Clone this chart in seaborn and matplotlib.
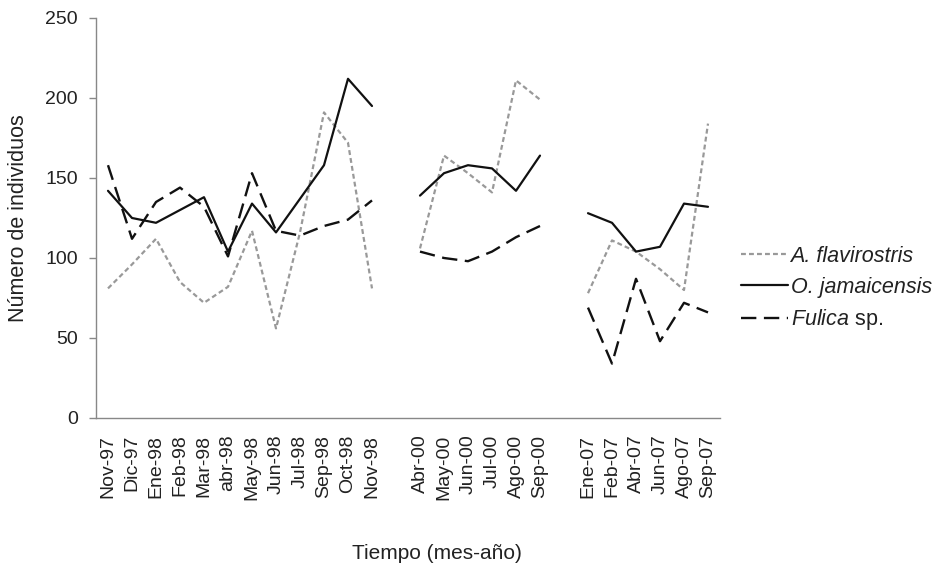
import numpy as np
import pandas as pd
import matplotlib
matplotlib.use("Agg")
import matplotlib.pyplot as plt
import seaborn as sns

# ---- data ----
categories = ["Nov-97", "Dic-97", "Ene-98", "Feb-98", "Mar-98", "abr-98", "May-98",
              "Jun-98", "Jul-98", "Sep-98", "Oct-98", "Nov-98", "",
              "Abr-00", "May-00", "Jun-00", "Jul-00", "Ago-00", "Sep-00", "",
              "Ene-07", "Feb-07", "Abr-07", "Jun-07", "Ago-07", "Sep-07"]

a_flavirostris = [81, 96, 112, 85, 72, 82, 117, 56, 116, 191, 172, 81, None,
                  106, 164, 153, 141, 211, 199, None,
                  78, 111, 104, 93, 80, 184]
o_jamaicensis = [142, 125, 122, 130, 138, 104, 134, 116, 137, 158, 212, 195, None,
                 139, 153, 158, 156, 142, 164, None,
                 128, 122, 104, 107, 134, 132]
fulica = [158, 112, 135, 144, 132, 101, 153, 117, 114, 120, 124, 136, None,
          104, 100, 98, 104, 113, 120, None,
          69, 34, 87, 48, 72, 66]

series_names = ["A. flavirostris", "O. jamaicensis", "Fulica sp."]
series_values = [a_flavirostris, o_jamaicensis, fulica]

# ---- style ----
sns.set_theme(style="white")
plt.rcParams["font.family"] = ["Liberation Sans", "DejaVu Sans"]
plt.rcParams["mathtext.fontset"] = "custom"
plt.rcParams["mathtext.it"] = "Liberation Sans:italic"
plt.rcParams["mathtext.rm"] = "Liberation Sans"

styles = {
    "A. flavirostris": dict(color="#999999", lw=1.6, ls=(0, (2.2, 1.4))),
    "O. jamaicensis": dict(color="#111111", lw=1.6, ls="-"),
    "Fulica sp.": dict(color="#111111", lw=1.7, ls=(0, (6.5, 3.2))),
}
labels = {
    "A. flavirostris": "A. flavirostris",
    "O. jamaicensis": "O. jamaicensis",
    "Fulica sp.": r"$\mathit{Fulica}$ sp.",
}
italic_labels = {"A. flavirostris", "O. jamaicensis"}

rows = []
for name, vals in zip(series_names, series_values):
    seg = 0
    for i, v in enumerate(vals):
        if v is None:
            seg += 1
            continue
        rows.append(dict(pos=i, cat=categories[i], value=v, series=name, seg=seg))
df = pd.DataFrame(rows)

fig = plt.figure(figsize=(9.41, 5.66), dpi=100)
ax = fig.add_axes([96 / 941, 148 / 566, 624 / 941, 400 / 566])

for name in series_names:
    st = styles[name]
    sub = df[df.series == name]
    for k, (seg, g) in enumerate(sub.groupby("seg")):
        sns.lineplot(data=g, x="pos", y="value", ax=ax, color=st["color"],
                     linewidth=st["lw"], linestyle=st["ls"],
                     label=labels[name] if k == 0 else None, legend=False)

ax.set_xlim(-0.5, len(categories) - 0.5)
ax.set_ylim(0, 250)
ax.set_yticks([0, 50, 100, 150, 200, 250])
ax.set_xticks(range(len(categories)))
ax.set_xticklabels(categories, rotation=90)

for s in ["top", "right"]:
    ax.spines[s].set_visible(False)
for s in ["left", "bottom"]:
    ax.spines[s].set_color("#888888")
    ax.spines[s].set_linewidth(1.0)

ax.tick_params(axis="y", which="both", left=True, length=5, width=1,
               color="#888888", labelsize=14, labelcolor="#222222", pad=8)
ax.tick_params(axis="x", which="both", bottom=False, length=0,
               labelsize=14, labelcolor="#222222", pad=12)

ax.set_xlabel("Tiempo (mes-año)", fontsize=15, color="#222222")
ax.xaxis.set_label_coords(0.546, -0.315)
ax.set_ylabel("Número de individuos", fontsize=15.5, color="#222222")
ax.yaxis.set_label_coords(-0.107, 0.5)

handles, labs = ax.get_legend_handles_labels()
leg = fig.legend(handles, labs, loc="center left",
                 bbox_to_anchor=(741 / 941, (566 - 289) / 566),
                 frameon=False, fontsize=15.5, handlelength=2.2,
                 handletextpad=0.1, labelspacing=0.45, borderaxespad=0,
                 borderpad=0)
for t in leg.get_texts():
    t.set_color("#222222")
    if t.get_text() in italic_labels:
        t.set_fontstyle("italic")

fig.savefig("out.png", dpi=100)
